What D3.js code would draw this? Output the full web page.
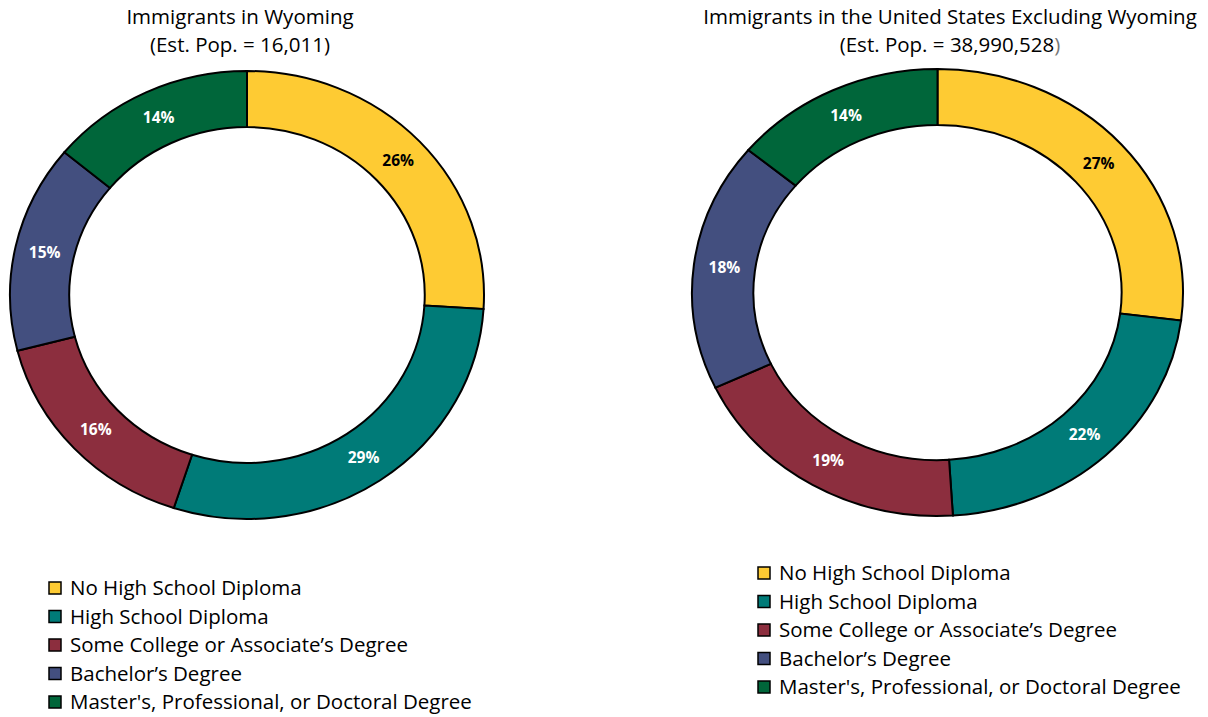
<!DOCTYPE html>
<html>
<head>
<meta charset="utf-8">
<script src="https://cdn.jsdelivr.net/npm/d3@7"></script>
<style>
  html, body { margin: 0; padding: 0; background: #fff; }
  svg { display: block; }
  text { font-family: "Open Sans", Lato, sans-serif; }
</style>
</head>
<body>
<svg id="chart" width="1208" height="717"></svg>
<script>
const categories = [
  "No High School Diploma",
  "High School Diploma",
  "Some College or Associate\u2019s Degree",
  "Bachelor\u2019s Degree",
  "Master's, Professional, or Doctoral Degree"
];
const wyomingValues = [26, 29, 16, 15, 14];
const usValues = [27, 22, 19, 18, 14];
const chartTitles = [
  ["Immigrants in Wyoming", "(Est. Pop. = 16,011)"],
  ["Immigrants in the United States Excluding Wyoming", "(Est. Pop. = 38,990,528", ")"]
];
const colors = ["#FECB33", "#007B78", "#8C2E3E", "#434F7F", "#00663A"];
const labelColors = ["#000", "#fff", "#fff", "#fff", "#fff"];

const svg = d3.select("#chart");

const panels = [
  { values: wyomingValues, title: chartTitles[0], cx: 247, cy: 295, rx: 237, ry: 224, titleX: 240, legendX: 49, legendY: 588 },
  { values: usValues, title: chartTitles[1], cx: 937.5, cy: 292.5, rx: 245.5, ry: 223.5, titleX: 950, legendX: 758, legendY: 573 }
];

const pie = d3.pie().sort(null).value(d => d);

panels.forEach(p => {
  const sx = p.rx / p.ry;
  const R = p.ry;
  const arc = d3.arc().innerRadius(R * 0.75).outerRadius(R);
  const labelArc = d3.arc().innerRadius(R * 0.875).outerRadius(R * 0.875);
  const arcs = pie(p.values);

  const g = svg.append("g").attr("transform", `translate(${p.cx},${p.cy}) scale(${sx},1)`);
  g.selectAll("path").data(arcs).join("path")
    .attr("d", arc)
    .attr("fill", (d, i) => colors[i])
    .attr("stroke", "#000")
    .attr("stroke-width", 2)
    .attr("vector-effect", "non-scaling-stroke");

  const lg = svg.append("g").attr("transform", `translate(${p.cx},${p.cy})`);
  lg.selectAll("text").data(arcs).join("text")
    .attr("x", d => labelArc.centroid(d)[0] * sx)
    .attr("y", d => labelArc.centroid(d)[1])
    .attr("dy", "0.35em")
    .attr("text-anchor", "middle")
    .attr("font-weight", "bold")
    .attr("font-size", 15.5)
    .attr("fill", (d, i) => labelColors[i])
    .text(d => d.data + "%");

  // titles
  svg.append("text").attr("x", p.titleX).attr("y", 24)
    .attr("text-anchor", "middle").attr("font-size", 20.5).attr("fill", "#000")
    .text(p.title[0]);
  const t2 = svg.append("text").attr("x", p.titleX).attr("y", 52)
    .attr("text-anchor", "middle").attr("font-size", 20.5).attr("fill", "#000");
  t2.append("tspan").text(p.title[1]);
  if (p.title[2]) t2.append("tspan").attr("fill", "#777").text(p.title[2]);

  // legend
  const leg = svg.append("g").attr("transform", `translate(${p.legendX},${p.legendY})`);
  const rows = leg.selectAll("g").data(categories).join("g")
    .attr("transform", (d, i) => `translate(0,${i * 28.5})`);
  rows.append("rect").attr("x", 0).attr("y", -6).attr("width", 12).attr("height", 12)
    .attr("fill", (d, i) => colors[i]).attr("stroke", "#000").attr("stroke-width", 1.5);
  rows.append("text").attr("x", 21).attr("y", 0).attr("dy", "0.35em")
    .attr("font-size", 20.5).attr("fill", "#000").text(d => d);
});
</script>
</body>
</html>
